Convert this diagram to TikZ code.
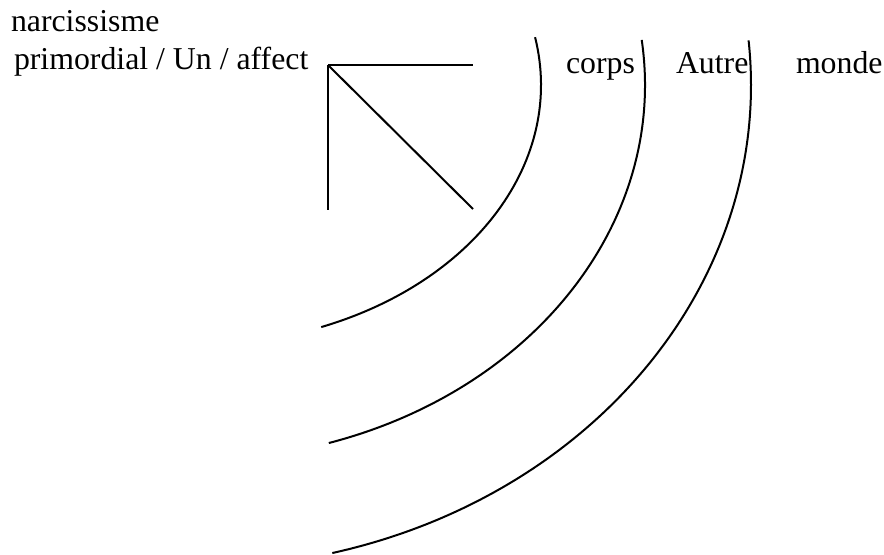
\documentclass[tikz,border=0pt]{standalone}
\usepackage{fontspec}
\setmainfont{Liberation Serif}
\usetikzlibrary{positioning}

\begin{document}
\begin{tikzpicture}[x=0.5pt, y=0.5pt, line width=1pt,
    every node/.style={font=\fontsize{15.9}{18}\selectfont},
    lbl/.style={inner sep=0pt, anchor=base west}]
  \useasboundingbox (0,0) rectangle (884,-554);

  % labels
  \node[lbl] (narc) at (10,-31) {narcissisme};
  \node[lbl] (prim) at (13,-69) {primordial / Un / affect};
  \node[lbl] (corps) at (565,-73) {corps};
  \node[lbl] (autre) at (675,-73) {Autre};
  \node[lbl] (monde) at (795,-73) {monde};

  % the corner and its three strokes
  \coordinate (un) at (328,-65);
  \coordinate (droite) at (473,-65);
  \coordinate (bas) at (328,-210);
  \coordinate (diag) at (473,-209);
  \draw (un) -- (droite);
  \draw (un) -- (bas);
  \draw (un) -- (diag);

  % the three arcs
  \coordinate (ctr) at (195,-85);
  \draw ([shift={(10.6:346 and 260)}]ctr) arc[start angle=10.6, end angle=-68.6, x radius=346, y radius=260];
  \draw ([shift={(6.9:450 and 375)}]ctr) arc[start angle=6.9, end angle=-72.7, x radius=450, y radius=375];
  \draw ([shift={(5.3:556 and 483)}]ctr) arc[start angle=5.3, end angle=-75.7, x radius=556, y radius=483];
\end{tikzpicture}
\end{document}
